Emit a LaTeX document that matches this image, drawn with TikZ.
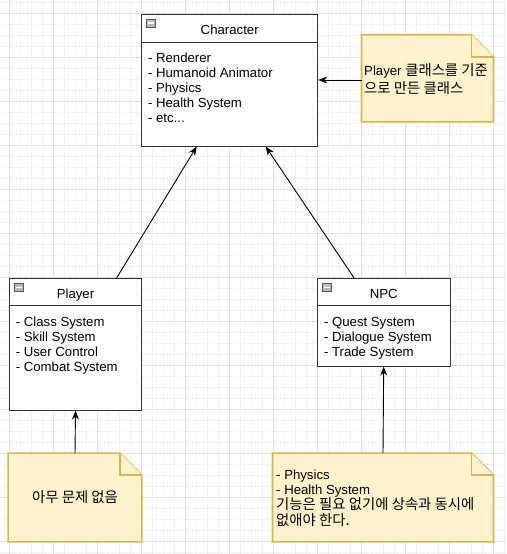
\documentclass[tikz,border=0pt]{standalone}
\usepackage{fontspec}
\setmainfont{Liberation Sans}
\newfontfamily\kr[Scale=1.09]{Noto Sans CJK KR}
\usetikzlibrary{arrows.meta}
\definecolor{notefill}{HTML}{FFF2CC}
\definecolor{noteline}{HTML}{D6B656}
\definecolor{gridmajor}{HTML}{E0E0E0}
\definecolor{gridminor}{HTML}{F1F1F1}
\definecolor{boxline}{HTML}{333333}
\tikzset{
  cbox/.style={draw=boxline, fill=white, line width=1pt, inner sep=0pt},
  notebg/.style={inner sep=0pt},
  noteshape/.style={draw=noteline, fill=notefill, line width=1.6pt, line join=miter},
  txt/.style={inner sep=0pt, anchor=base west, font=\fontsize{13.2}{15}\selectfont},
  ttl/.style={inner sep=0pt, anchor=base, font=\fontsize{13.2}{15}\selectfont},
  arr/.style={draw=black, line width=0.9pt, -{Stealth[length=9pt,width=7pt]}},
  minusicon/.style={draw=gray!70!black, fill=gray!55, line width=0.5pt}
}
\newcommand{\drawnote}[1]{%
  \draw[noteshape] (#1.north west) -- ([xshift=-22pt]#1.north east) -- ([yshift=-22pt]#1.north east) -- (#1.south east) -- (#1.south west) -- cycle;
  \draw[noteshape] ([xshift=-22pt]#1.north east) -- ([xshift=-22pt,yshift=-22pt]#1.north east) -- ([yshift=-22pt]#1.north east);
}
\newcommand{\drawicon}[1]{%
  \draw[minusicon] ([xshift=5pt,yshift=-5.5pt]#1.north west) rectangle ([xshift=14.5pt,yshift=-13.5pt]#1.north west);
  \draw[white, line width=1.2pt] ([xshift=6.8pt,yshift=-9.5pt]#1.north west) -- ([xshift=12.7pt,yshift=-9.5pt]#1.north west);
}
\begin{document}
\begin{tikzpicture}[x=1pt,y=-1pt]
\useasboundingbox (0,0) rectangle (506,554);
\fill[white] (0,0) rectangle (506,554);
% grid
\foreach \i in {-1,...,46} {
  \draw[gridminor, line width=0.8pt] ({9.3+11*\i},0) -- ({9.3+11*\i},554);
}
\foreach \i in {-2,...,50} {
  \draw[gridminor, line width=0.8pt] (0,{13.3+11*\i}) -- (506,{13.3+11*\i});
}
\foreach \i in {0,...,11} {
  \draw[gridmajor, line width=0.8pt] ({9.3+44*\i},0) -- ({9.3+44*\i},554);
}
\foreach \i in {0,...,12} {
  \draw[gridmajor, line width=0.8pt] (0,{13.3+44*\i}) -- (506,{13.3+44*\i});
}
% Character
\node[cbox, minimum width=176pt, minimum height=132pt] (char) at (229.7,80) {};
\draw[boxline, line width=1pt] ([yshift=-28.5pt]char.north west) -- ([yshift=-28.5pt]char.north east);
\drawicon{char}
\node[ttl] (charT) at (229.7,34) {Character};
\node[txt] (c1) at (147.8,62.3) {- Renderer};
\node[txt] (c2) at (147.8,77.3) {- Humanoid Animator};
\node[txt] (c3) at (147.8,92.3) {- Physics};
\node[txt] (c4) at (147.8,107.3) {- Health System};
\node[txt] (c5) at (147.8,122.3) {- etc...};
% Player
\node[cbox, minimum width=132.4pt, minimum height=131.7pt] (player) at (75.5,344.2) {};
\draw[boxline, line width=1pt] ([yshift=-27.8pt]player.north west) -- ([yshift=-27.8pt]player.north east);
\drawicon{player}
\node[ttl] (playerT) at (75.5,298) {Player};
\node[txt] (p1) at (15.6,326.3) {- Class System};
\node[txt] (p2) at (15.6,341.3) {- Skill System};
\node[txt] (p3) at (15.6,356.3) {- User Control};
\node[txt] (p4) at (15.6,371.3) {- Combat System};
% NPC
\node[cbox, minimum width=132.7pt, minimum height=87.7pt] (npc) at (383.7,322.2) {};
\draw[boxline, line width=1pt] ([yshift=-27.8pt]npc.north west) -- ([yshift=-27.8pt]npc.north east);
\drawicon{npc}
\node[ttl] (npcT) at (383.7,298) {NPC};
\node[txt] (n1) at (323.8,326.3) {- Quest System};
\node[txt] (n2) at (323.8,341.3) {- Dialogue System};
\node[txt] (n3) at (323.8,356.3) {- Trade System};
% Notes
\node[notebg, minimum width=131.6pt, minimum height=86.7pt] (noteA) at (427.5,78.3) {};
\drawnote{noteA}
\node[txt] (noteA1) at (364,75.8) {Player {\kr 클래스를 기준}};
\node[txt] (noteA2) at (364,93) {\kr 으로 만든 클래스};
\node[notebg, minimum width=133.4pt, minimum height=88.4pt] (noteB) at (75,497.5) {};
\drawnote{noteB}
\node[ttl] (noteB1) at (75,502.5) {\kr 아무 문제 없음};
\node[notebg, minimum width=220.6pt, minimum height=88.4pt] (noteC) at (383,497.5) {};
\drawnote{noteC}
\node[txt] (noteC1) at (276,479) {- Physics};
\node[txt] (noteC2) at (276,494) {- Health System};
\node[txt] (noteC3) at (276,509.6) {\kr 기능은 필요 없기에 상속과 동시에};
\node[txt] (noteC4) at (276,525) {\kr 없애야 한다.};
% connectors
\draw[arr] ([xshift=41.2pt]player.north) -- ([xshift=-33pt]char.south);
\draw[arr] ([xshift=-29.7pt]npc.north) -- ([xshift=36pt]char.south);
\draw[arr] (noteA.west |- char.east) -- (char.east);
\draw[arr] (noteB.north) -- (player.south);
\draw[arr] (noteC.north) -- (npc.south);
\end{tikzpicture}
\end{document}
